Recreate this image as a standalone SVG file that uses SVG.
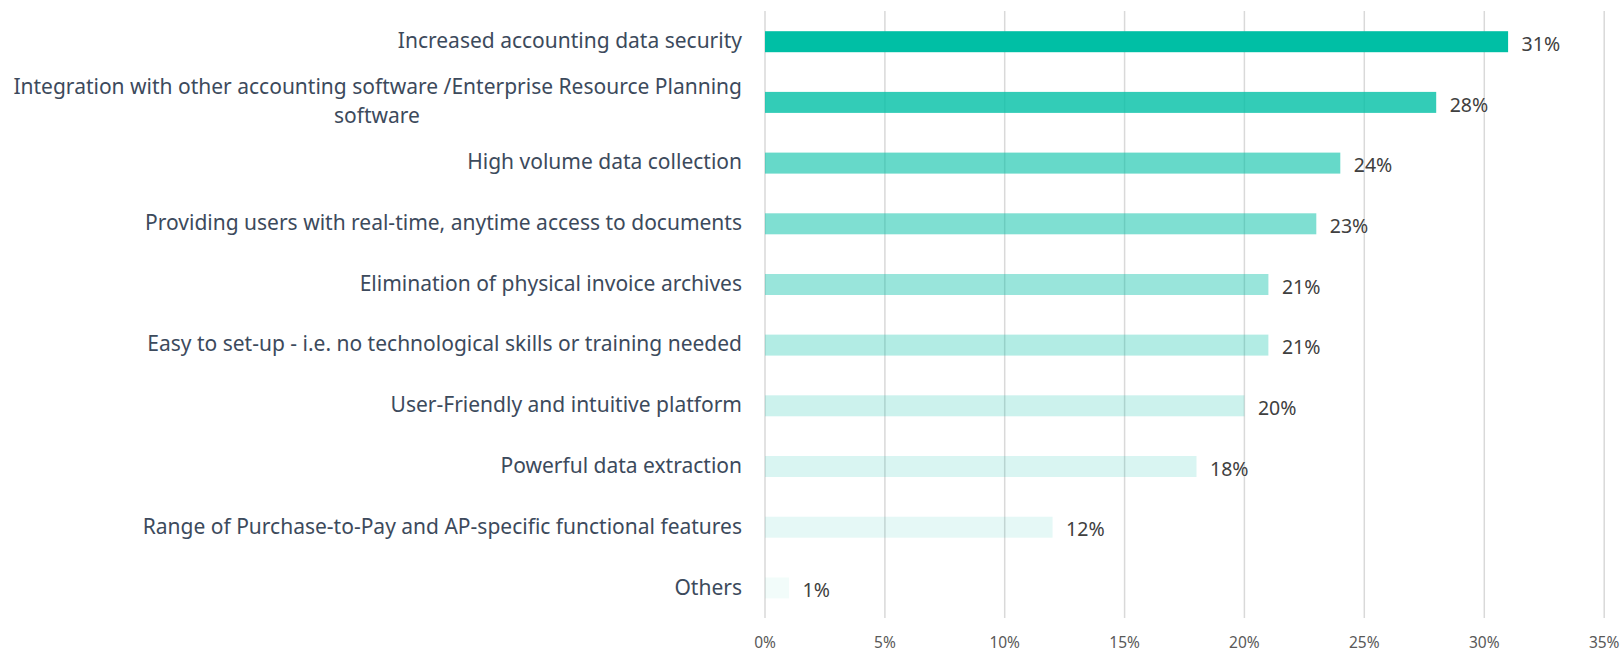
<svg xmlns="http://www.w3.org/2000/svg" width="1622" height="653" viewBox="0 0 1622 653">
<style>
.grid{stroke:#d9d9d9;stroke-width:1.5}
.bar{fill:#00bfa5}
.cat{font-family:"Noto Sans","Open Sans",sans-serif;font-size:21px;fill:#3c4a5c;text-anchor:end}
.mid{text-anchor:middle}
.val{font-family:"Noto Sans","Open Sans",sans-serif;font-size:19.5px;fill:#404040}
.ax{font-family:"Noto Sans","Open Sans",sans-serif;font-size:15.5px;fill:#595959;text-anchor:middle}
</style>
<rect width="1622" height="653" fill="#ffffff"/>
<g id="grid">
<line class="grid" x1="765" y1="11" x2="765" y2="618"/>
<line class="grid" x1="884.9" y1="11" x2="884.9" y2="618"/>
<line class="grid" x1="1004.7" y1="11" x2="1004.7" y2="618"/>
<line class="grid" x1="1124.6" y1="11" x2="1124.6" y2="618"/>
<line class="grid" x1="1244.4" y1="11" x2="1244.4" y2="618"/>
<line class="grid" x1="1364.3" y1="11" x2="1364.3" y2="618"/>
<line class="grid" x1="1484.3" y1="11" x2="1484.3" y2="618"/>
<line class="grid" x1="1604.2" y1="11" x2="1604.2" y2="618"/>
</g>
<g id="axis">
<text class="ax" x="765" y="648">0%</text>
<text class="ax" x="884.9" y="648">5%</text>
<text class="ax" x="1004.7" y="648">10%</text>
<text class="ax" x="1124.6" y="648">15%</text>
<text class="ax" x="1244.4" y="648">20%</text>
<text class="ax" x="1364.3" y="648">25%</text>
<text class="ax" x="1484.3" y="648">30%</text>
<text class="ax" x="1604.2" y="648">35%</text>
</g>
<g id="row1">
<text class="cat" x="742" y="48.3">Increased accounting data security</text>
<rect class="bar" x="765" y="31.2" width="743.1" height="21"/>
<text class="val" x="1521.6" y="50.9">31%</text>
</g>
<g id="row2">
<text class="cat" x="742" y="94.3">Integration with other accounting software /Enterprise Resource Planning</text>
<text class="cat mid" x="377" y="123">software</text>
<rect class="bar" x="765" y="91.9" width="671.2" height="21" fill-opacity="0.8"/>
<text class="val" x="1449.7" y="111.6">28%</text>
</g>
<g id="row3">
<text class="cat" x="742" y="169.3">High volume data collection</text>
<rect class="bar" x="765" y="152.6" width="575.3" height="21" fill-opacity="0.6"/>
<text class="val" x="1353.8" y="172.3">24%</text>
</g>
<g id="row4">
<text class="cat" x="742" y="230">Providing users with real-time, anytime access to documents</text>
<rect class="bar" x="765" y="213.3" width="551.3" height="21" fill-opacity="0.5"/>
<text class="val" x="1329.8" y="233">23%</text>
</g>
<g id="row5">
<text class="cat" x="742" y="290.7">Elimination of physical invoice archives</text>
<rect class="bar" x="765" y="274" width="503.4" height="21" fill-opacity="0.4"/>
<text class="val" x="1281.9" y="293.7">21%</text>
</g>
<g id="row6">
<text class="cat" x="742" y="351.4">Easy to set-up - i.e. no technological skills or training needed</text>
<rect class="bar" x="765" y="334.6" width="503.4" height="21" fill-opacity="0.3"/>
<text class="val" x="1281.9" y="354.4">21%</text>
</g>
<g id="row7">
<text class="cat" x="742" y="412.1">User-Friendly and intuitive platform</text>
<rect class="bar" x="765" y="395.3" width="479.4" height="21" fill-opacity="0.2"/>
<text class="val" x="1257.9" y="415">20%</text>
</g>
<g id="row8">
<text class="cat" x="742" y="472.8">Powerful data extraction</text>
<rect class="bar" x="765" y="456" width="431.5" height="21" fill-opacity="0.15"/>
<text class="val" x="1210" y="475.7">18%</text>
</g>
<g id="row9">
<text class="cat" x="742" y="533.5">Range of Purchase-to-Pay and AP-specific functional features</text>
<rect class="bar" x="765" y="516.7" width="287.6" height="21" fill-opacity="0.1"/>
<text class="val" x="1066.1" y="536.4">12%</text>
</g>
<g id="row10">
<text class="cat" x="742" y="595">Others</text>
<rect class="bar" x="765" y="577.4" width="24" height="21" fill-opacity="0.05"/>
<text class="val" x="802.5" y="597.1">1%</text>
</g>
</svg>
